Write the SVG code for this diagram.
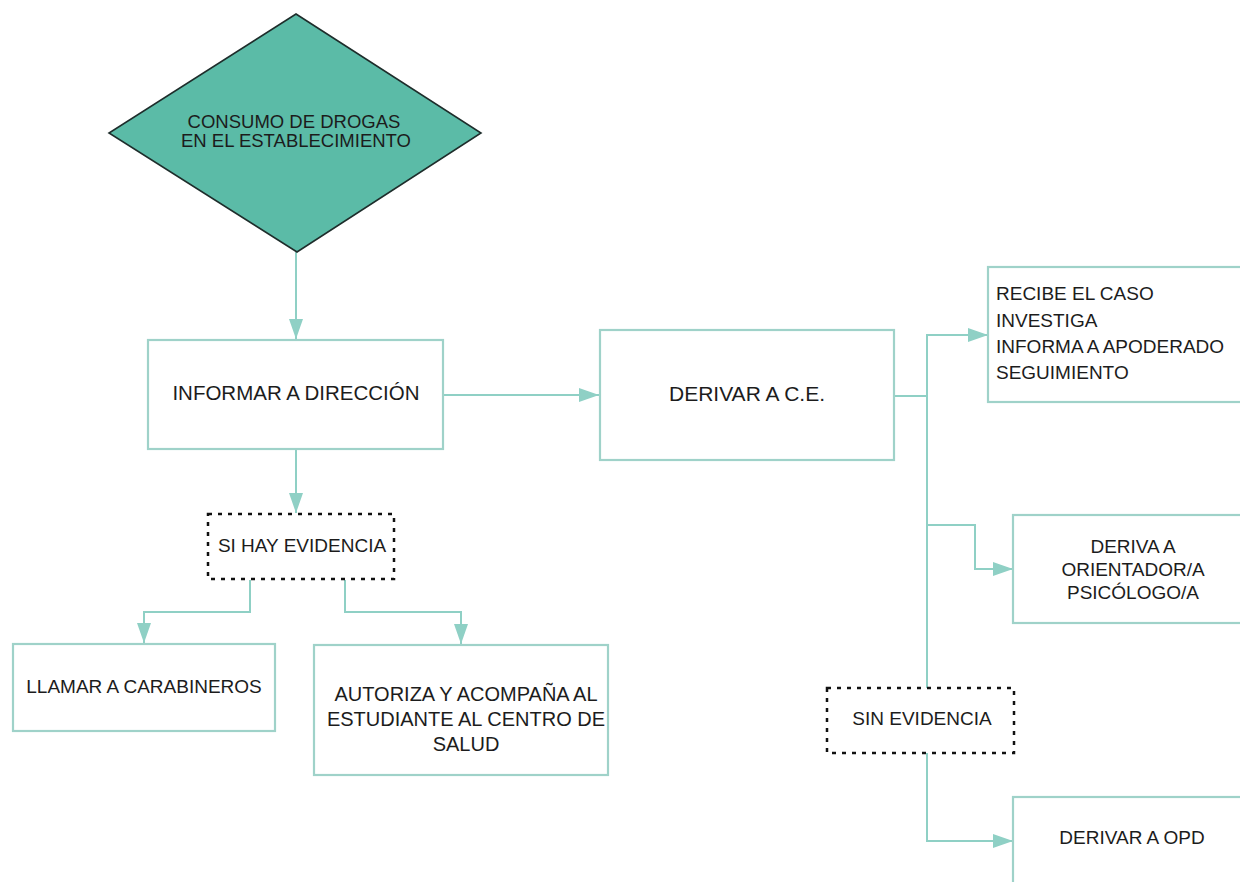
<svg xmlns="http://www.w3.org/2000/svg" width="1240" height="882" viewBox="0 0 1240 882">
  <defs>
    <marker id="arrow" viewBox="0 0 20 14" refX="20" refY="7" markerWidth="20" markerHeight="14" markerUnits="userSpaceOnUse" orient="auto">
      <path d="M0,0 L20,7 L0,14 Z" fill="#8fd0c5"/>
    </marker>
    <style>
      .box { fill: #ffffff; stroke: #9fd2c9; stroke-width: 2.2; }
      .note { fill: #ffffff; stroke: #111111; stroke-width: 2.5; stroke-dasharray: 4 6; }
      .decision { fill: #5bbba7; stroke: #1e2d2b; stroke-width: 1.6; }
      .link { fill: none; stroke: #8fd0c5; stroke-width: 2; }
      text { font-family: "Liberation Sans", Arial, sans-serif; fill: #1c1c1c; font-size: 19px; }
      .c { text-anchor: middle; }
    </style>
  </defs>
  <rect width="1240" height="882" fill="#ffffff"/>

  <!-- connectors -->
  <g id="connectors">
    <path class="link" d="M296,252 L296,339" marker-end="url(#arrow)"/>
    <path class="link" d="M296,449 L296,513" marker-end="url(#arrow)"/>
    <path class="link" d="M443,395 L599,395" marker-end="url(#arrow)"/>
    <path class="link" d="M250,580 L250,612 L144,612 L144,643" marker-end="url(#arrow)"/>
    <path class="link" d="M345,580 L345,612 L461,612 L461,644" marker-end="url(#arrow)"/>
    <path class="link" d="M894,396 L927,396"/>
    <path class="link" d="M927,688 L927,335 L988,335" marker-end="url(#arrow)"/>
    <path class="link" d="M927,525 L975,525 L975,569 L1013,569" marker-end="url(#arrow)"/>
    <path class="link" d="M927,753 L927,841 L1013,841" marker-end="url(#arrow)"/>
  </g>

  <!-- start decision -->
  <g id="consumo">
    <polygon class="decision" points="296,14 481,133 297,252 109,133"/>
    <text class="c" x="294" y="128" style="font-size:18.5px">CONSUMO DE DROGAS</text>
    <text class="c" x="296" y="147" style="font-size:18.5px">EN EL ESTABLECIMIENTO</text>
  </g>

  <g id="informar">
    <rect class="box" x="148" y="340" width="295" height="109"/>
    <text class="c" x="296" y="400" style="font-size:20.5px">INFORMAR A DIRECCIÓN</text>
  </g>

  <g id="derivar-ce">
    <rect class="box" x="600" y="330" width="294" height="130"/>
    <text class="c" x="747" y="401" style="font-size:21px">DERIVAR A C.E.</text>
  </g>

  <g id="si-evidencia">
    <rect class="note" x="208" y="514" width="186" height="65"/>
    <text class="c" x="302" y="552">SI HAY EVIDENCIA</text>
  </g>

  <g id="carabineros">
    <rect class="box" x="13" y="644" width="262" height="87"/>
    <text class="c" x="144" y="693">LLAMAR A CARABINEROS</text>
  </g>

  <g id="centro-salud">
    <rect class="box" x="314" y="645" width="294" height="130"/>
    <text class="c" x="466" y="701" style="font-size:20px">AUTORIZA Y ACOMPAÑA AL</text>
    <text class="c" x="466" y="726" style="font-size:20px">ESTUDIANTE AL CENTRO DE</text>
    <text class="c" x="466" y="751" style="font-size:20px">SALUD</text>
  </g>

  <g id="recibe">
    <rect class="box" x="988" y="267" width="270" height="135"/>
    <text x="996" y="300">RECIBE EL CASO</text>
    <text x="996" y="327">INVESTIGA</text>
    <text x="996" y="353">INFORMA A APODERADO</text>
    <text x="996" y="379">SEGUIMIENTO</text>
  </g>

  <g id="orientador">
    <rect class="box" x="1013" y="515" width="245" height="108"/>
    <text class="c" x="1133" y="553">DERIVA A</text>
    <text class="c" x="1133" y="576">ORIENTADOR/A</text>
    <text class="c" x="1133" y="599">PSICÓLOGO/A</text>
  </g>

  <g id="sin-evidencia">
    <rect class="note" x="827" y="688" width="187" height="65"/>
    <text class="c" x="922" y="725">SIN EVIDENCIA</text>
  </g>

  <g id="opd">
    <rect class="box" x="1013" y="797" width="245" height="110"/>
    <text class="c" x="1132" y="844">DERIVAR A OPD</text>
  </g>
</svg>
